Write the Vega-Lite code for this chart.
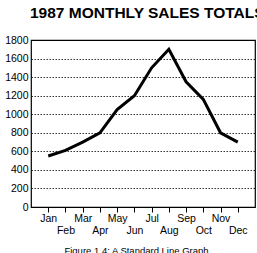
{
  "$schema": "https://vega.github.io/schema/vega-lite/v6.json",
  "width": 224,
  "height": 167,
  "autosize": "none",
  "padding": {"left": 31, "top": 40, "right": 2, "bottom": 46},
  "background": "white",
  "title": {
    "text": "1987 MONTHLY SALES TOTALS",
    "anchor": "start",
    "frame": "group",
    "font": "Liberation Sans",
    "fontSize": 15.5,
    "fontWeight": "bold",
    "color": "#000000",
    "offset": 14,
    "dx": -1
  },
  "config": {
    "view": {"stroke": "#000000", "strokeWidth": 1.2},
    "axis": {
      "labelFont": "Liberation Sans",
      "labelColor": "#000000",
      "titleFont": "Liberation Sans",
      "titleColor": "#000000"
    }
  },
  "data": {
    "values": [
      {"month": 1, "sales": 550},
      {"month": 2, "sales": 610},
      {"month": 3, "sales": 700},
      {"month": 4, "sales": 800},
      {"month": 5, "sales": 1050},
      {"month": 6, "sales": 1200},
      {"month": 7, "sales": 1500},
      {"month": 8, "sales": 1700},
      {"month": 9, "sales": 1350},
      {"month": 10, "sales": 1160},
      {"month": 11, "sales": 800},
      {"month": 12, "sales": 700}
    ]
  },
  "mark": {"type": "line", "color": "#000000", "strokeWidth": 3},
  "encoding": {
    "x": {
      "field": "month",
      "type": "quantitative",
      "scale": {"domain": [0, 13], "nice": false, "zero": false},
      "axis": {
        "values": [1, 2, 3, 4, 5, 6, 7, 8, 9, 10, 11, 12],
        "labelExpr": "datum.value % 2 == 0 ? ['', ['Jan','Feb','Mar','Apr','May','Jun','Jul','Aug','Sep','Oct','Nov','Dec'][datum.value - 1]] : ['Jan','Feb','Mar','Apr','May','Jun','Jul','Aug','Sep','Oct','Nov','Dec'][datum.value - 1]",
        "grid": false,
        "domain": false,
        "tickSize": 5,
        "tickColor": "#000000",
        "labelFontSize": 10.5,
        "labelPadding": 1,
        "labelLineHeight": 12,
        "labelOverlap": false,
        "labelFlush": false,
        "title": "Figure 1.4: A Standard Line Graph",
        "titleFontSize": 9.5,
        "titleFontWeight": "normal",
        "titlePadding": 10,
        "titleX": 105
      }
    },
    "y": {
      "field": "sales",
      "type": "quantitative",
      "scale": {"domain": [0, 1800], "nice": false},
      "axis": {
        "values": [0, 200, 400, 600, 800, 1000, 1200, 1400, 1600, 1800],
        "format": "d",
        "grid": true,
        "gridDash": [1.5, 1.5],
        "gridColor": "#000000",
        "gridOpacity": 0.8,
        "ticks": false,
        "domain": false,
        "labelFontSize": 10.5,
        "labelPadding": 3,
        "title": null
      }
    }
  }
}
